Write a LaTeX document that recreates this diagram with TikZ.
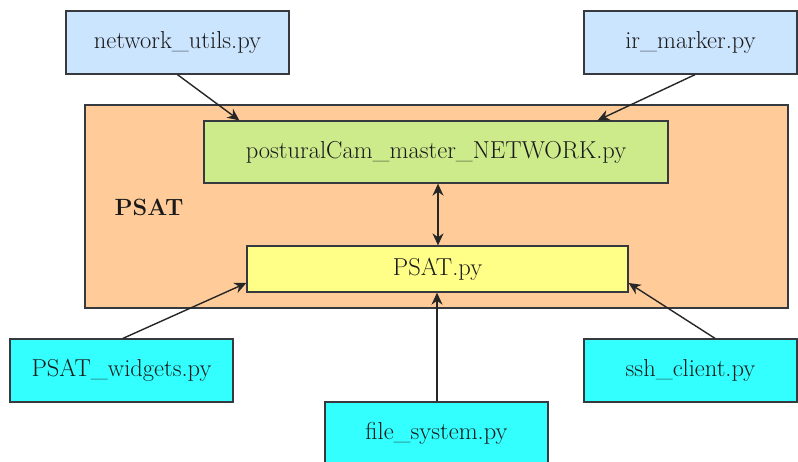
\documentclass[tikz,border=0pt]{standalone}
\usetikzlibrary{arrows.meta,calc}
\definecolor{cblue}{HTML}{CCE5FF}
\definecolor{corange}{HTML}{FFCC99}
\definecolor{cgreen}{HTML}{CDEB8B}
\definecolor{cyellow}{HTML}{FFFF88}
\definecolor{ccyan}{HTML}{33FFFF}
\definecolor{cborder}{HTML}{36393D}
\definecolor{ctext}{HTML}{1A1A1A}
\begin{document}
\begin{tikzpicture}[x=1pt,y=-1pt,
  box/.style={draw=cborder,line width=1.3pt,rectangle,inner sep=0pt,text=ctext,
    font=\rmfamily\fontsize{24.5}{29}\selectfont},
  conn/.style={draw=black!85,line width=1.4pt,-{Stealth[length=12pt,width=11pt]}},
  biconn/.style={draw=black!85,line width=1.4pt,{Stealth[length=12pt,width=11pt]}-{Stealth[length=12pt,width=11pt]}}]
\useasboundingbox (0,0) rectangle (798,461);
\fill[white] (0,0) rectangle (798,461);
\node[box,fill=corange,minimum width=703pt,minimum height=203pt] (psat) at (436.5,206.5) {};
\node[text=ctext,font=\rmfamily\fontsize{23.5}{28}\selectfont\bfseries] (psatlabel) at (149,207) {PSAT};
\node[box,fill=cblue,minimum width=223pt,minimum height=63pt] (net) at (177.5,42.5) {network\_utils.py};
\node[box,fill=cblue,minimum width=213pt,minimum height=63pt] (ir) at (690.5,42.5) {ir\_marker.py};
\node[box,fill=cgreen,minimum width=464pt,minimum height=62pt] (post) at (436,152) {posturalCam\_master\_NETWORK.py};
\node[box,fill=cyellow,minimum width=381pt,minimum height=46pt] (psatpy) at (437.5,269) {PSAT.py};
\node[box,fill=ccyan,minimum width=223pt,minimum height=63pt] (widgets) at (121.5,370.5) {PSAT\_widgets.py};
\node[box,fill=ccyan,minimum width=213pt,minimum height=63pt] (ssh) at (690.5,370.5) {ssh\_client.py};
\node[box,fill=ccyan,minimum width=223pt,minimum height=63pt] (fs) at (436.5,433.5) {file\_system.py};
\draw[conn] (net.south) -- ($(post.north west)+(36,0)$);
\draw[conn] ($(ir.south)+(4.5,0)$) -- ($(post.north east)+(-71,0)$);
\draw[biconn] ($(post.south)+(2,0)$) -- ($(psatpy.north)+(0.5,0)$);
\draw[conn] ($(widgets.north)+(1.5,0)$) -- ($(psatpy.west)+(0,14)$);
\draw[conn] ($(fs.north)+(0.5,0)$) -- ($(psatpy.south)+(-0.5,0)$);
\draw[conn] ($(ssh.north)+(24.5,0)$) -- ($(psatpy.east)+(0,14)$);
\end{tikzpicture}
\end{document}
